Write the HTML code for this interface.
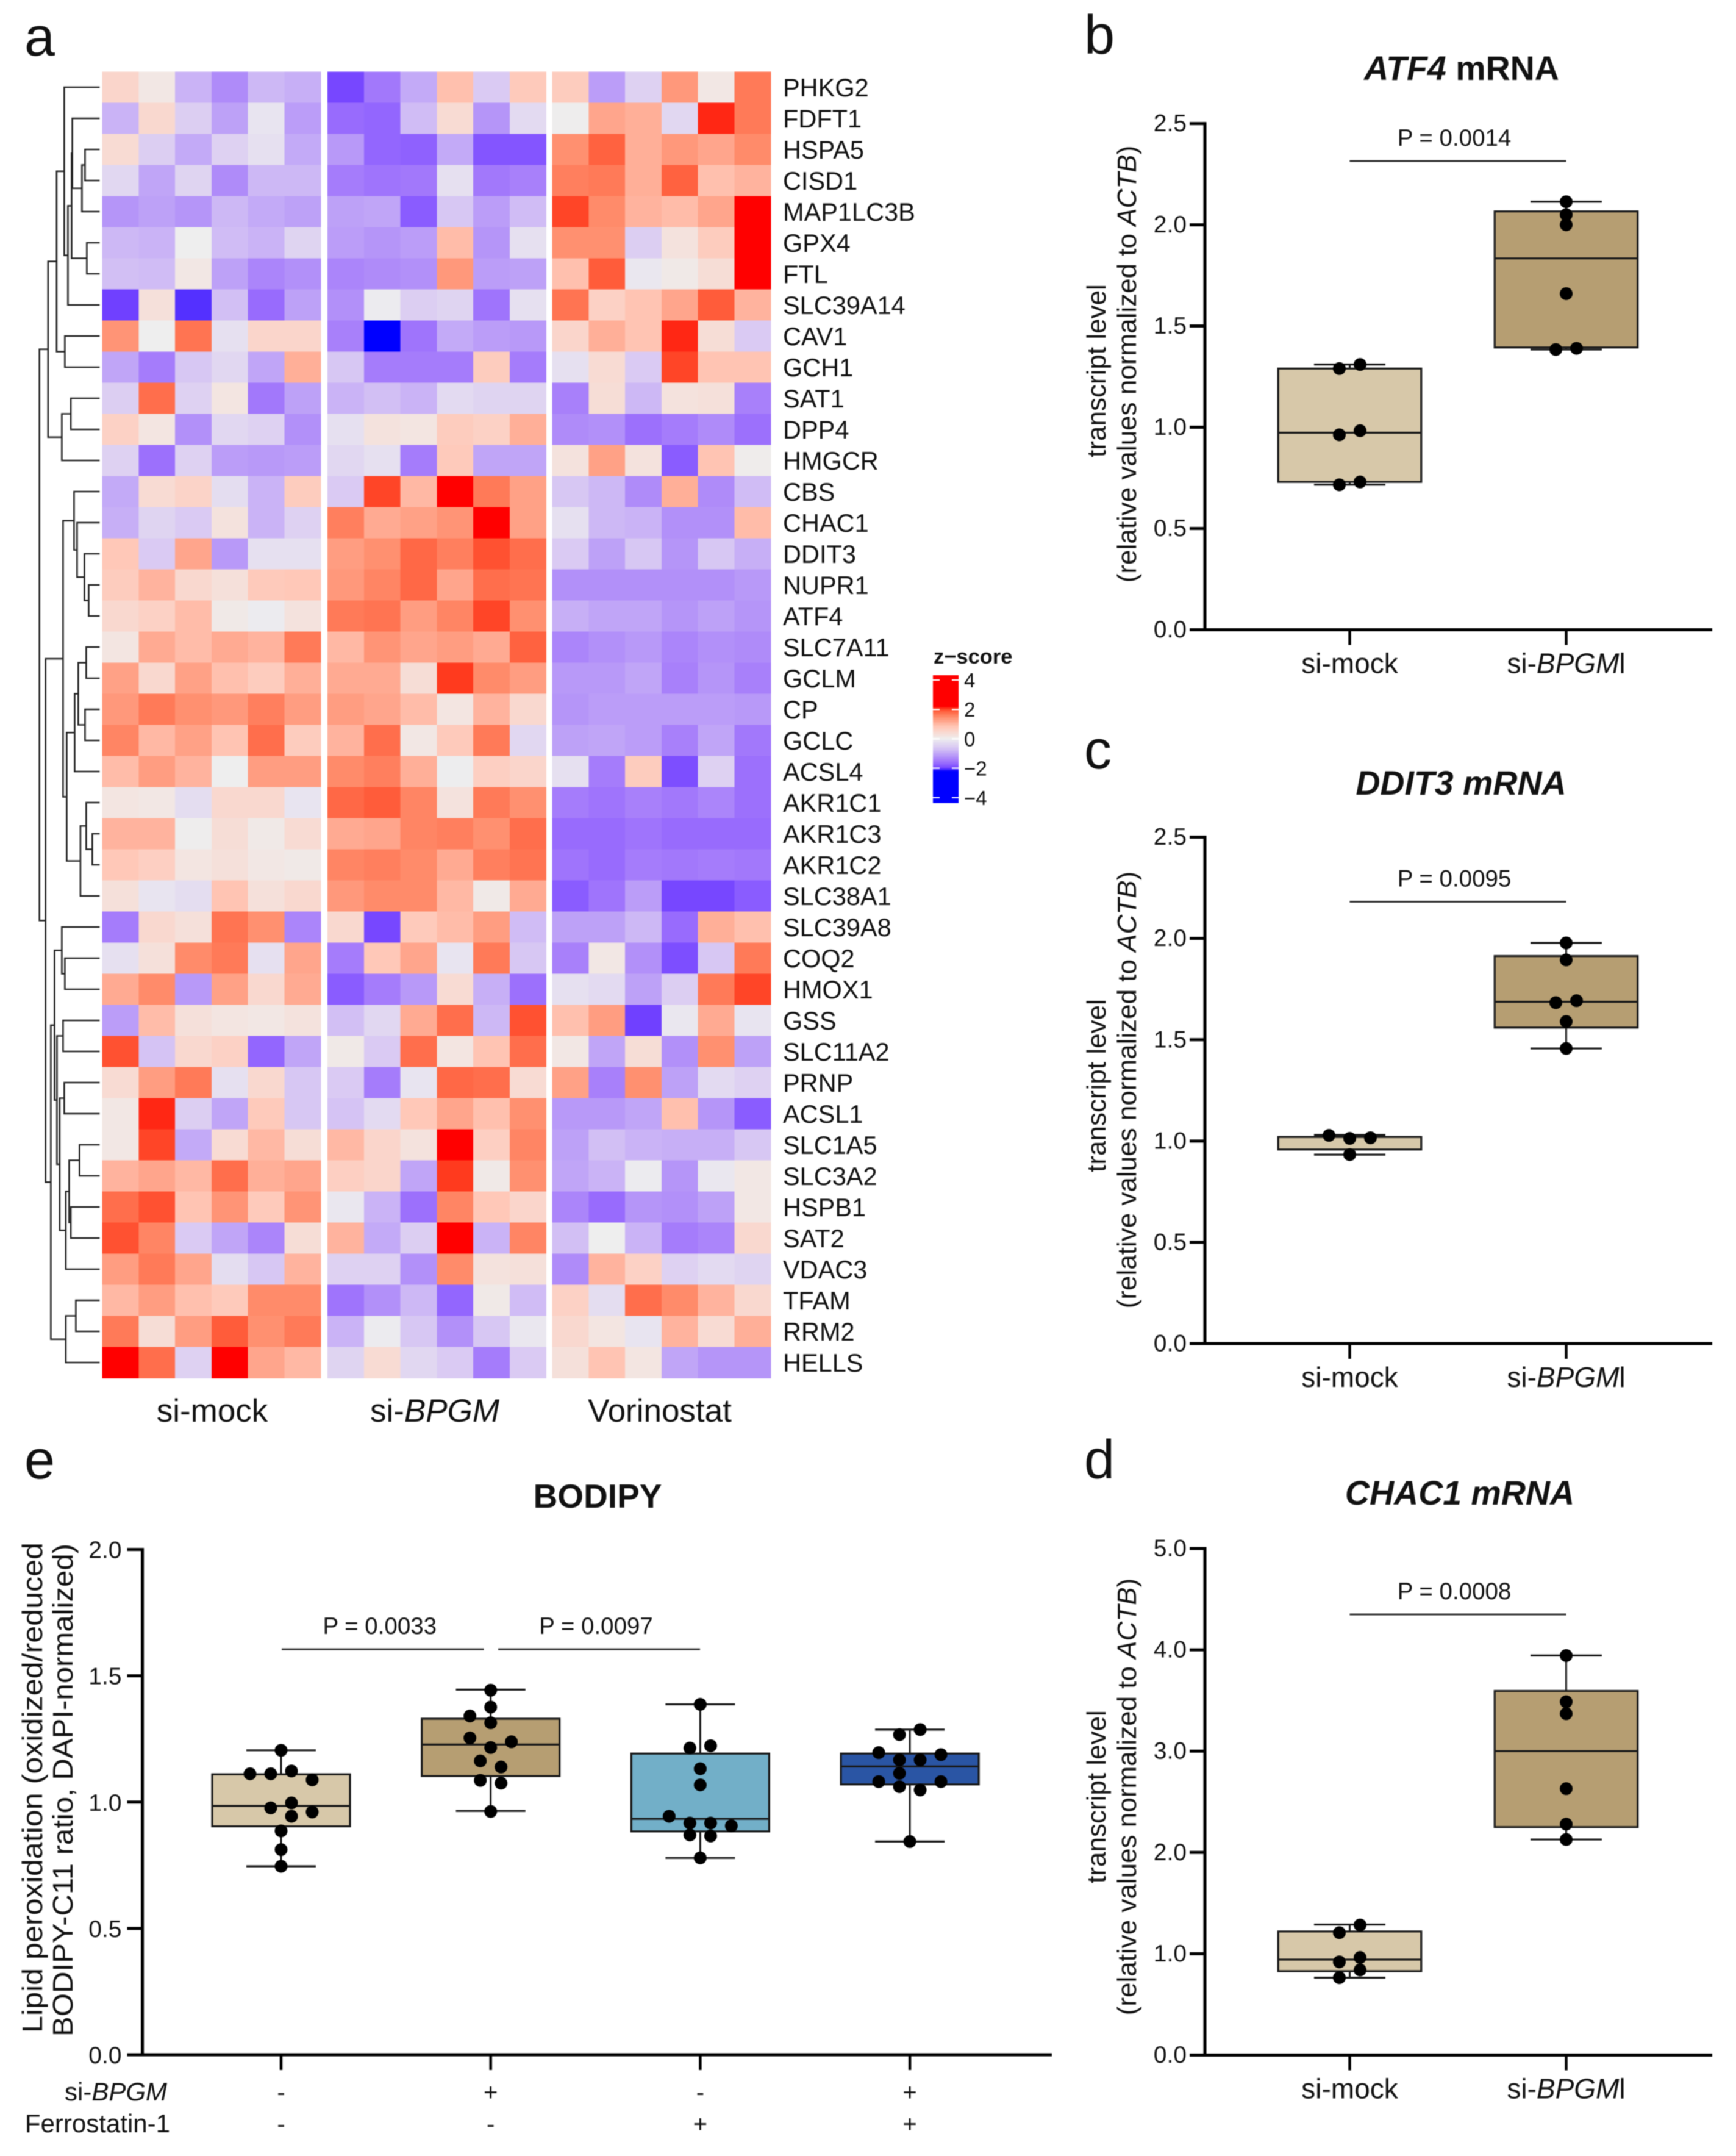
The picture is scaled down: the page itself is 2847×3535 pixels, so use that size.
<!DOCTYPE html>
<html lang="en">
<head>
<meta charset="utf-8">
<title>BPGM knockdown figure</title>
<style>
html,body{margin:0;padding:0;background:#fff;width:2847px;height:3535px;overflow:hidden}
svg{display:block;filter:blur(0.7px)}
text{font-family:"Liberation Sans",sans-serif;fill:#111}
</style>
</head>
<body>
<svg id="figure" xmlns="http://www.w3.org/2000/svg" width="2847" height="3535" viewBox="0 0 2847 3535">
  <rect x="0" y="0" width="2847" height="3535" fill="#ffffff"/>

  <text x="40" y="91" font-size="90">a</text>
  <text x="1778" y="88" font-size="90">b</text>
  <text x="1778" y="1260" font-size="90">c</text>
  <text x="1778" y="2424" font-size="90">d</text>
  <text x="40" y="2424" font-size="90">e</text>

  <g id="heatmap"></g>
  <g id="dendrogram" fill="none" stroke="#222" stroke-width="2.6"></g>
  <g id="rowLabels"></g>

  <text x="348" y="2331" font-size="53" text-anchor="middle">si-mock</text>
  <text x="713" y="2331" font-size="53" text-anchor="middle">si-<tspan font-style="italic">BPGM</tspan></text>
  <text x="1082" y="2331" font-size="53" text-anchor="middle">Vorinostat</text>

  <g id="legend">
    <text x="1531" y="1088" font-size="34.5" font-weight="bold">z−score</text>
  </g>

  <text x="2397" y="131" font-size="55.5" font-weight="bold" text-anchor="middle"><tspan font-style="italic">ATF4</tspan> mRNA</text>
  <text x="2396" y="1303" font-size="55.5" font-weight="bold" font-style="italic" text-anchor="middle">DDIT3 mRNA</text>
  <text x="2394" y="2467" font-size="55.5" font-weight="bold" font-style="italic" text-anchor="middle">CHAC1 mRNA</text>
  <text x="980" y="2472" font-size="55" font-weight="bold" text-anchor="middle">BODIPY</text>

  <text transform="translate(1813,608) rotate(-90)" font-size="44" text-anchor="middle">transcript level</text>
  <text transform="translate(1863,597) rotate(-90)" font-size="44" text-anchor="middle">(relative values normalized to <tspan font-style="italic">ACTB</tspan>)</text>
  <text transform="translate(1813,1780) rotate(-90)" font-size="44" text-anchor="middle">transcript level</text>
  <text transform="translate(1863,1787) rotate(-90)" font-size="44" text-anchor="middle">(relative values normalized to <tspan font-style="italic">ACTB</tspan>)</text>
  <text transform="translate(1813,2946) rotate(-90)" font-size="44" text-anchor="middle">transcript level</text>
  <text transform="translate(1863,2946) rotate(-90)" font-size="44" text-anchor="middle">(relative values normalized to <tspan font-style="italic">ACTB</tspan>)</text>
  <text transform="translate(69,2931) rotate(-90)" font-size="46" text-anchor="middle" textLength="804" lengthAdjust="spacingAndGlyphs">Lipid peroxidation (oxidized/reduced</text>
  <text transform="translate(119,2935) rotate(-90)" font-size="46" text-anchor="middle" textLength="808" lengthAdjust="spacingAndGlyphs">BODIPY-C11 ratio, DAPI-normalized)</text>

  <g id="panelB"></g>
  <g id="panelC"></g>
  <g id="panelD"></g>
  <g id="panelE"></g>

  <text x="274" y="3444" font-size="42" text-anchor="end">si-<tspan font-style="italic">BPGM</tspan></text>
  <text x="279" y="3496" font-size="42" text-anchor="end">Ferrostatin-1</text>
</svg>

<script>
/* ---------- heatmap data ---------- */
const geneNames = ['PHKG2','FDFT1','HSPA5','CISD1','MAP1LC3B','GPX4','FTL','SLC39A14','CAV1','GCH1','SAT1','DPP4','HMGCR','CBS','CHAC1','DDIT3','NUPR1','ATF4','SLC7A11','GCLM','CP','GCLC','ACSL4','AKR1C1','AKR1C3','AKR1C2','SLC38A1','SLC39A8','COQ2','HMOX1','GSS','SLC11A2','PRNP','ACSL1','SLC1A5','SLC3A2','HSPB1','SAT2','VDAC3','TFAM','RRM2','HELLS'];
const heatGroups = ['si-mock','si-BPGM','Vorinostat'];
const heatValues = [
[.5,.15,-.85,-1.3,-.8,-.9,-1.95,-1.5,-.95,.9,-.55,.75,.7,-1.1,-.45,1.35,.15,1.65],
[-.85,.45,-.5,-1.05,-.15,-1.1,-1.65,-1.7,-.75,.4,-1.2,-.3,.02,1.2,1.1,-.35,2.1,1.65],
[.4,-.5,-.95,-.45,-.2,-.95,-1.15,-1.7,-1.75,-.95,-1.85,-1.85,1.45,1.85,1.1,1.35,1.2,1.5],
[-.35,-1,-.4,-1.3,-.8,-.8,-1.45,-1.55,-1.5,-.2,-1.5,-1.4,1.6,1.65,1.1,1.85,.9,1.05],
[-1.2,-1.05,-1.2,-.8,-.95,-1.05,-1.05,-1,-1.8,-.6,-1.1,-.75,2,1.5,1.05,.95,1.2,2.3],
[-.8,-.85,0,-.75,-.85,-.4,-1.1,-1.2,-1.1,.95,-1.2,-.2,1.45,1.45,-.5,.25,.7,2.3],
[-.7,-.75,.15,-1.05,-1.35,-1.25,-1.35,-1.3,-1.25,1.35,-1.1,-1.05,.9,1.9,-.1,.1,.35,2.3],
[-2,.3,-2.05,-.7,-1.65,-1.05,-1.25,-.05,-.5,-.4,-1.55,-.2,1.7,.6,.85,1.2,1.9,1.05],
[1.4,0,1.7,-.2,.5,.5,-1.4,-2.4,-1.55,-.95,-1.1,-1.15,.5,1.1,.85,2.1,.35,-.55],
[-1,-1.45,-.6,-.35,-1,1.1,-.6,-1.45,-1.45,-1.45,.7,-1.45,-.2,.4,-.55,2,.85,.85],
[-.5,1.75,-.45,.2,-1.5,-1.05,-.85,-.7,-.85,-.3,-.4,-.4,-1.4,.35,-.8,.25,.3,-1.4],
[.6,.2,-1.25,-.35,-.45,-1.25,-.2,.25,.2,.7,.6,1.1,-1.3,-1.25,-1.6,-1.45,-1.3,-1.6],
[-.45,-1.6,-.45,-1.1,-1.15,-1.1,-.35,-.2,-1.45,.75,-1,-1,.25,1.25,.25,-1.8,.85,.05],
[-.95,.4,.55,-.25,-.85,.7,-.55,2,1,2.3,1.65,1.25,-.6,-.8,-1.3,1.1,-1.3,-.75],
[-.9,-.4,-.55,.25,-.85,-.45,1.6,1.15,1.25,1.4,2.3,1.25,-.2,-.8,-.85,-1.25,-1.25,.95],
[.8,-.55,1.2,-1.15,-.2,-.2,1.3,1.45,1.8,1.6,1.95,1.75,-.55,-1.05,-.6,-1.2,-.6,-.9],
[.7,1.05,.45,.3,.75,.8,1.35,1.55,1.8,1.2,1.75,1.7,-1.25,-1.25,-1.25,-1.25,-1.25,-1.15],
[.45,.6,.95,.1,-.05,.25,1.65,1.7,1.3,1.55,2,1.45,-.9,-1,-1,-1.2,-1.05,-1.2],
[.2,1.15,.95,1.15,1.05,1.65,1,1.4,1.2,1.3,1.15,1.85,-1.35,-1.25,-1.15,-1.35,-1.25,-1.3],
[1.25,.45,1.25,.9,.7,1.1,1.15,1.15,.35,2.05,1.5,1.3,-1.15,-1.15,-1,-1.4,-1.2,-1.4],
[1.35,1.65,1.45,1.35,1.6,1.3,1.3,1.2,.95,.2,1.05,.45,-1.2,-1.1,-1.1,-1.1,-1.1,-1.15],
[1.55,1,1.25,.85,1.75,.7,1.05,1.75,.15,.75,1.65,-.35,-1.05,-1,-1.1,-1.4,-1,-1.5],
[.95,1.3,1.05,0,1.3,1.3,1.5,1.6,1.1,-.02,.65,.5,-.2,-1.45,.7,-1.9,-.45,-1.6],
[.2,.15,-.25,.45,.45,-.15,1.8,1.9,1.55,.25,1.65,1.45,-1.45,-1.55,-1.4,-1.5,-1.35,-1.6],
[1.05,1.05,.02,.35,.1,.4,1.15,1.2,1.55,1.6,1.45,1.75,-1.65,-1.65,-1.55,-1.65,-1.65,-1.65],
[.8,.65,.2,.3,.15,.1,1.55,1.6,1.5,1.15,1.6,1.7,-1.55,-1.65,-1.45,-1.5,-1.45,-1.5],
[.3,-.15,-.25,.85,.3,.45,1.35,1.5,1.5,1,.1,1.15,-1.8,-1.55,-1.1,-1.95,-1.95,-1.8],
[-1.45,.45,.3,1.7,1.45,-1.35,.45,-1.95,.75,.95,1.3,-.75,-1.05,-1.05,-.8,-1.65,1.1,.9],
[-.2,.3,1.5,1.65,-.2,1.2,-1.45,.8,1.2,-.15,1.65,-.6,-1.4,.15,-1.25,-1.9,-.6,1.65],
[1.15,1.5,-1.15,1.25,.45,1.15,-1.8,-1.45,-1.15,.4,-.9,-1.6,-.2,-.3,-1.05,-.5,1.65,2],
[-1.1,.95,.3,.2,.15,.25,-.7,-.35,1.15,1.75,-.8,1.95,.9,1.3,-2,-.1,1.15,-.15],
[1.95,-.65,.45,.6,-1.7,-1,.1,-.55,1.75,.2,.85,1.75,.15,-1,.35,-1.25,1.45,-1.05],
[.4,1.3,1.65,-.2,.45,-.6,-.55,-1.45,-.15,1.8,1.75,.4,1.25,-1.4,1.45,-1.05,-.3,-.45],
[.15,2.1,-.5,-1,.75,-.6,-.65,-.3,.8,1.2,.9,1.45,-1.15,-1.15,-1,.9,-1.2,-1.8],
[.15,2,-.95,.4,1,.35,1,.5,.25,2.3,.65,1.55,-1.05,-.7,-.85,-.9,-.9,-.6],
[1.05,1.2,1,1.75,1.1,1.2,.65,.5,-1,2.05,.1,1.45,-1,-.85,-.05,-1.2,-.1,.15],
[1.75,1.95,.85,1.4,.75,1.4,-.1,-.85,-1.6,1.55,.8,.5,-1.35,-1.65,-1.2,-1.25,-1.05,.15],
[1.95,1.55,-.55,-1,-1.35,.35,1.05,-.95,-.5,2.3,-.85,1.55,-.7,0,-.85,-1.45,-1.35,.45],
[1.3,1.65,1.2,-.25,-.6,1.05,-.45,-.45,-1.25,1.5,.25,.3,-1.3,1.05,.6,-.45,-.3,-.4],
[1,1.3,.9,.75,1.5,1.5,-1.55,-1.25,-.8,-1.7,.1,-.75,.6,-.25,1.75,1.5,1.05,.45],
[1.65,.35,1.3,1.9,1.45,1.65,-.85,-.05,-.6,-1.25,-.6,-.1,.45,.2,-.15,1.05,.4,1.1],
[2.25,1.75,-.45,2.3,1.2,1,-.4,.4,-.35,-.55,-1.45,-.55,.3,.85,.2,-1,-1.2,-1.2]
];
const zStops = [-2.2,-2,-1.8,-1.6,-1.4,-1.2,-1,-.8,-.5,-.2,0,.3,.5,.8,1,1.2,1.45,1.65,1.9,2.05,2.2];
const zColors = ['#0000ff','#7040ff','#8a5cff','#9c70fc','#a880fa','#b595f8','#c0a5f7','#cdb8f5','#dccef2','#e6e0f0','#eeeeee','#f5e0da','#fad5cb','#ffc8b8','#ffb8a4','#ffa58c','#ff9070','#ff7a58','#ff5c3a','#ff3a1e','#ff0000'];
const legendTicks = [4,2,0,-2,-4];
const legendTickLabels = ['4','2','0','−2','−4'];

/* dendrogram: [merge distance, upper child, lower child]; a bare number is a gene row */
const dendroTop = [84.6,[70.5,[58,0,[52,[46,[44.8,1,[29,[24,2,3],4]],[21,5,6]],7]],[57,8,9]],[62,[47.3,10,11],12]];
const dendroMid = [60,[42,13,[37,14,[25,15,[18,16,17]]]],[54,[41,[35,[22,18,19],[24,20,21]],22],[31.5,[22,23,[12,24,25]],26]]];
const dendroLow = [80,[74,[62,27,[57,28,29]],[70,[60,30,31],[65.5,[58,32,33],[55.5,[50,[33,34,35],[47.3,36,37]],38]]]],[55.5,[39,39,40],41]];
const dendroRoot = [98.7,dendroTop,[88.7,dendroMid,dendroLow]];

/* ---------- panel b: ATF4 ---------- */
const atf4Categories = ['si-mock','si-*BPGM*l'];
const atf4Ticks = ['0.0','0.5','1.0','1.5','2.0','2.5'];
const atf4Q1 = [.73,1.394];
const atf4Median = [.973,1.834];
const atf4Q3 = [1.29,2.066];
const atf4Min = [.716,1.384];
const atf4Max = [1.31,2.114];
const atf4MockDots = [1.29,1.31,.963,.983,.716,.73];
const atf4MockSlots = [-1,1,-1,1,-1,1];
const atf4BpgmDots = [2.114,2.05,2,1.66,1.384,1.39];
const atf4BpgmSlots = [0,0,0,0,-1,1];
const atf4Pvalue = ['P = 0.0014'];
const atf4PLevel = [2.315];

/* ---------- panel c: DDIT3 ---------- */
const ddit3Categories = ['si-mock','si-*BPGM*l'];
const ddit3Ticks = ['0.0','0.5','1.0','1.5','2.0','2.5'];
const ddit3Q1 = [.958,1.56];
const ddit3Median = [1.02,1.687];
const ddit3Q3 = [1.02,1.913];
const ddit3Min = [.933,1.457];
const ddit3Max = [1.03,1.978];
const ddit3MockDots = [1.028,1.013,1.016,.933];
const ddit3MockSlots = [-2,0,2,0];
const ddit3BpgmDots = [1.978,1.894,1.683,1.693,1.59,1.457];
const ddit3BpgmSlots = [0,0,-1,1,0,0];
const ddit3Pvalue = ['P = 0.0095'];
const ddit3PLevel = [2.181];

/* ---------- panel d: CHAC1 ---------- */
const chac1Categories = ['si-mock','si-*BPGM*l'];
const chac1Ticks = ['0.0','1.0','2.0','3.0','4.0','5.0'];
const chac1Q1 = [.828,2.25];
const chac1Median = [.942,3];
const chac1Q3 = [1.22,3.594];
const chac1Min = [.764,2.128];
const chac1Max = [1.288,3.944];
const chac1MockDots = [1.208,1.284,.92,.963,.84,.764];
const chac1MockSlots = [-1,1,-1,1,1,-1];
const chac1BpgmDots = [3.944,3.488,3.37,2.63,2.28,2.128];
const chac1BpgmSlots = [0,0,0,0,0,0];
const chac1Pvalue = ['P = 0.0008'];
const chac1PLevel = [4.35];

/* ---------- panel e: BODIPY ---------- */
const bodipyTicks = ['0.0','0.5','1.0','1.5','2.0'];
const bodipyBpgmRow = ['-','+','-','+'];
const bodipyFerrRow = ['-','-','+','+'];
const bodipyColors = ['#d7c8a9','#b69e72','#72afc8','#2a55a4'];
const bodipyQ1 = [.904,1.103,.884,1.07];
const bodipyMedian = [.985,1.228,.934,1.141];
const bodipyQ3 = [1.11,1.33,1.192,1.192];
const bodipyMin = [.746,.965,.779,.844];
const bodipyMax = [1.205,1.445,1.387,1.287];
const bodipyDots1 = [1.205,1.112,1.112,1.123,1.088,.977,.997,.944,.961,.886,.812,.746];
const bodipySlots1 = [0,-3,-1,1,3,-1,1,1,3,0,0,0];
const bodipyDots2 = [1.443,1.376,1.341,1.314,1.254,1.239,1.216,1.163,1.139,1.086,1.075,.963];
const bodipySlots2 = [0,0,-2,0,-2,2,0,-1,1,-1,1,0];
const bodipyDots3 = [1.387,1.214,1.223,1.132,1.068,.944,.917,.917,.906,.87,.866,.779];
const bodipySlots3 = [0,-1,1,0,0,-3,-1,1,3,-1,1,0];
const bodipyDots4 = [1.287,1.267,1.196,1.188,1.167,1.167,1.114,1.081,1.081,1.061,1.048,.844];
const bodipySlots4 = [1,-1,-3,3,-1,1,-1,-3,3,-1,1,0];
const bodipyPvalues = ['P = 0.0033','P = 0.0097'];
const bodipyPLevel = [1.605,1.605];

/* ---------- helpers ---------- */
const NS = 'http://www.w3.org/2000/svg';
function mk(tag, attrs, parent) {
  const el = document.createElementNS(NS, tag);
  for (const k in attrs) el.setAttribute(k, attrs[k]);
  parent.appendChild(el);
  return el;
}
function richText(el, str) {
  str.split('*').forEach(function (part, i) {
    const t = document.createElementNS(NS, 'tspan');
    if (i % 2 === 1) t.setAttribute('font-style', 'italic');
    t.textContent = part;
    el.appendChild(t);
  });
}
function hexRgb(h) {
  return [parseInt(h.slice(1, 3), 16), parseInt(h.slice(3, 5), 16), parseInt(h.slice(5, 7), 16)];
}
function zColor(z) {
  if (z <= zStops[0]) return zColors[0];
  const last = zStops.length - 1;
  if (z >= zStops[last]) return zColors[last];
  for (let i = 0; i < last; i++) {
    if (z <= zStops[i + 1]) {
      const t = (z - zStops[i]) / (zStops[i + 1] - zStops[i]);
      const a = hexRgb(zColors[i]), b = hexRgb(zColors[i + 1]);
      return 'rgb(' + a.map(function (v, j) { return Math.round(v + (b[j] - v) * t); }).join(',') + ')';
    }
  }
  return zColors[last];
}

/* ---------- heatmap ---------- */
const HM_TOP = 117.5, HM_ROW = 51, HM_CELL = 59.8;
const hmGroupStart = [167.5, 537, 905.5];
function hmX(col) {
  const g = Math.floor(col / 6);
  return hmGroupStart[g] + (col - g * 6) * HM_CELL;
}
function hmY(row) { return HM_TOP + row * HM_ROW; }

const hmRoot = document.getElementById('heatmap');
heatValues.forEach(function (rowVals, r) {
  rowVals.forEach(function (v, c) {
    const cell = mk('rect', { x: hmX(c), y: hmY(r), width: HM_CELL + .4, height: HM_ROW + .4, fill: zColor(v), 'shape-rendering': 'crispEdges' }, hmRoot);
    
    
  });
});

const labelRoot = document.getElementById('rowLabels');
geneNames.forEach(function (g, r) {
  const t = mk('text', { x: 1284, y: hmY(r) + HM_ROW / 2 + 15, 'font-size': 41.5 }, labelRoot);
  t.textContent = g;
  
  
});

/* ---------- dendrogram ---------- */
const DENDRO_LEAF_X = 163.4;
const dendroRootEl = document.getElementById('dendrogram');
function drawNode(node) {
  if (typeof node === 'number') return { x: DENDRO_LEAF_X, y: hmY(node) + HM_ROW / 2 };
  const a = drawNode(node[1]), b = drawNode(node[2]);
  const x = DENDRO_LEAF_X - node[0];
  const p = mk('path', { d: 'M' + a.x + ' ' + a.y + 'H' + x + 'V' + b.y + 'H' + b.x }, dendroRootEl);
  
  
  return { x: x, y: (a.y + b.y) / 2 };
}
drawNode(dendroRoot);

/* ---------- legend ---------- */
const legendRoot = document.getElementById('legend');
const LEG_Z4 = 1115, LEG_PER_Z = 24.1;
function legY(z) { return LEG_Z4 + (4 - z) * LEG_PER_Z; }
const defs = mk('defs', {}, legendRoot);
const grad = mk('linearGradient', { id: 'zGrad', x1: 0, y1: 1, x2: 0, y2: 0 }, defs);
const legBottomZ = -4.37, legTopZ = 4.33;
zStops.forEach(function (z, i) {
  mk('stop', { offset: (z - legBottomZ) / (legTopZ - legBottomZ), 'stop-color': zColors[i] }, grad);
});
const legBar = mk('rect', { x: 1530, y: legY(legTopZ), width: 42, height: legY(legBottomZ) - legY(legTopZ), fill: 'url(#zGrad)' }, legendRoot);


legendTicks.forEach(function (z, i) {
  const l = mk('path', { d: 'M1530 ' + legY(z) + 'h11M1561 ' + legY(z) + 'h11', stroke: '#fff', 'stroke-width': 2.2, fill: 'none' }, legendRoot);
  
  
  const t = mk('text', { x: 1581, y: legY(z) + 12, 'font-size': 33 }, legendRoot);
  t.textContent = legendTickLabels[i];
  
  
});

/* ---------- box plots ---------- */
function drawBoxChart(o) {
  const root = document.getElementById(o.id);
  const maxV = parseFloat(o.ticks[o.ticks.length - 1]);
  const y = function (v) { return o.y0 - (v / maxV) * (o.y0 - o.yTop); };
  const x = function (i) { return o.x0 + i * o.step; };

  o.q1.forEach(function (_, i) {
    const cx = x(i);
    const stem = mk('line', { x1: cx, x2: cx, y1: y(o.min[i]), y2: y(o.max[i]), stroke: '#1a1a1a', 'stroke-width': 3 }, root);
    
    
    [o.min[i], o.max[i]].forEach(function (v) {
      const cap = mk('line', { x1: cx - o.capW / 2, x2: cx + o.capW / 2, y1: y(v), y2: y(v), stroke: '#1a1a1a', 'stroke-width': 3.2 }, root);
      
      
    });
    const box = mk('rect', { x: cx - o.boxW / 2, y: y(o.q3[i]), width: o.boxW, height: y(o.q1[i]) - y(o.q3[i]), fill: o.colors[i], stroke: '#1a1a1a', 'stroke-width': 3.2 }, root);
    
    
    const med = mk('line', { x1: cx - o.boxW / 2, x2: cx + o.boxW / 2, y1: y(o.median[i]), y2: y(o.median[i]), stroke: '#1a1a1a', 'stroke-width': 3.2 }, root);
    
    
    o.dots[i].forEach(function (v, j) {
      const dot = mk('circle', { cx: cx + o.slots[i][j] * 17, cy: y(v), r: 10.5, fill: '#000' }, root);
      
      
    });
  });

  const yAxis = mk('line', { x1: o.axisX, x2: o.axisX, y1: o.yTop - 2.5, y2: o.y0 + 2.5, stroke: '#000', 'stroke-width': 5 }, root);
  
  
  const xAxis = mk('line', { x1: o.axisX - 25, x2: o.xEnd, y1: o.y0, y2: o.y0, stroke: '#000', 'stroke-width': 5 }, root);
  
  

  o.ticks.forEach(function (label) {
    const v = parseFloat(label);
    const tick = mk('line', { x1: o.axisX - 25, x2: o.axisX, y1: y(v), y2: y(v), stroke: '#000', 'stroke-width': 5 }, root);
    
    
    const t = mk('text', { x: o.axisX - o.labelGap, y: y(v) + o.labelDrop, 'font-size': 39, 'text-anchor': 'end' }, root);
    t.textContent = label;
    
    
  });

  o.q1.forEach(function (_, i) {
    const tick = mk('line', { x1: x(i), x2: x(i), y1: o.y0, y2: o.y0 + 25, stroke: '#000', 'stroke-width': 4.5 }, root);
    
    
  });

  if (o.categories) {
    o.categories.forEach(function (label, i) {
      const t = mk('text', { x: x(i), y: o.y0 + 71, 'font-size': 46, 'text-anchor': 'middle' }, root);
      richText(t, label);
      
      
    });
  }

  o.pValues.forEach(function (label, i) {
    const b = o.pBars[i];
    const bar = mk('line', { x1: b[0], x2: b[1], y1: y(o.pLevel[i]), y2: y(o.pLevel[i]), stroke: '#333', 'stroke-width': 3 }, root);
    
    
    const t = mk('text', { x: (b[0] + b[1]) / 2 + (o.pShift || 0), y: y(o.pLevel[i]) - 25, 'font-size': 38.5, 'text-anchor': 'middle' }, root);
    t.textContent = label;
    
    
  });
  return x;
}

const tanColors = ['#d7c8a9', '#b69e72'];

drawBoxChart({ id: 'panelB', y0: 1032.5, yTop: 202.6, axisX: 1976, xEnd: 2808, x0: 2213.5, step: 355, boxW: 234.5, capW: 117, labelGap: 30, labelDrop: 12.5,
  ticks: atf4Ticks, categories: atf4Categories, colors: tanColors, q1: atf4Q1, median: atf4Median, q3: atf4Q3, min: atf4Min, max: atf4Max,
  dots: [atf4MockDots, atf4BpgmDots], slots: [atf4MockSlots, atf4BpgmSlots], pValues: atf4Pvalue, pLevel: atf4PLevel, pBars: [[2213.5, 2568.5]], pShift: -6 });

drawBoxChart({ id: 'panelC', y0: 2203, yTop: 1372.6, axisX: 1976, xEnd: 2808, x0: 2213.5, step: 355, boxW: 234.5, capW: 117, labelGap: 30, labelDrop: 12.5,
  ticks: ddit3Ticks, categories: ddit3Categories, colors: tanColors, q1: ddit3Q1, median: ddit3Median, q3: ddit3Q3, min: ddit3Min, max: ddit3Max,
  dots: [ddit3MockDots, ddit3BpgmDots], slots: [ddit3MockSlots, ddit3BpgmSlots], pValues: ddit3Pvalue, pLevel: ddit3PLevel, pBars: [[2213.5, 2568.5]], pShift: -6 });

drawBoxChart({ id: 'panelD', y0: 3369.5, yTop: 2539, axisX: 1976, xEnd: 2808, x0: 2213.5, step: 355, boxW: 234.5, capW: 117, labelGap: 30, labelDrop: 12.5,
  ticks: chac1Ticks, categories: chac1Categories, colors: tanColors, q1: chac1Q1, median: chac1Median, q3: chac1Q3, min: chac1Min, max: chac1Max,
  dots: [chac1MockDots, chac1BpgmDots], slots: [chac1MockSlots, chac1BpgmSlots], pValues: chac1Pvalue, pLevel: chac1PLevel, pBars: [[2213.5, 2568.5]], pShift: -6 });

const eX = drawBoxChart({ id: 'panelE', y0: 3369, yTop: 2540.5, axisX: 233.5, xEnd: 1725, x0: 461, step: 343.7, boxW: 226, capW: 114, labelGap: 34, labelDrop: 14,
  ticks: bodipyTicks, colors: bodipyColors, q1: bodipyQ1, median: bodipyMedian, q3: bodipyQ3, min: bodipyMin, max: bodipyMax,
  dots: [bodipyDots1, bodipyDots2, bodipyDots3, bodipyDots4], slots: [bodipySlots1, bodipySlots2, bodipySlots3, bodipySlots4],
  pValues: bodipyPvalues, pLevel: bodipyPLevel, pBars: [[462, 793.5], [817, 1148]], pShift: -5 });

const panelE = document.getElementById('panelE');
[[bodipyBpgmRow, 3444], [bodipyFerrRow, 3496]].forEach(function (row) {
  row[0].forEach(function (sym, i) {
    const t = mk('text', { x: eX(i), y: row[1], 'font-size': 40, 'text-anchor': 'middle' }, panelE);
    t.textContent = sym;
    
    
  });
});
</script>
</body>
</html>
